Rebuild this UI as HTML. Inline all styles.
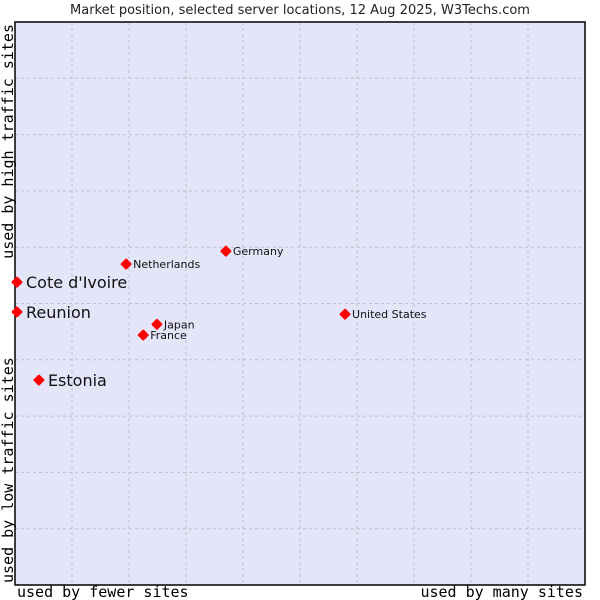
<!DOCTYPE html>
<html><head><meta charset="utf-8"><style>
body{margin:0;background:#fff;}
svg{display:block;}
</style></head><body>
<svg id="chart" width="600" height="600" xmlns="http://www.w3.org/2000/svg">
<text x="300" y="14" text-anchor="middle" font-family="DejaVu Sans, sans-serif" font-size="13" fill="#222">Market position, selected server locations, 12 Aug 2025, W3Techs.com</text>
<rect x="15" y="22" width="570" height="563" fill="#e4e5f8"/>
<g id="grid"></g>
<rect x="15" y="22" width="570" height="563" fill="none" stroke="#000" stroke-width="1.5"/>
<text x="17" y="597" font-family="DejaVu Sans Mono, monospace" font-size="15" fill="#000">used by fewer sites</text>
<text x="583" y="597" text-anchor="end" font-family="DejaVu Sans Mono, monospace" font-size="15" fill="#000">used by many sites</text>
<text transform="translate(13,583) rotate(-90)" font-family="DejaVu Sans Mono, monospace" font-size="15" fill="#000">used by low traffic sites</text>
<text transform="translate(13,24) rotate(-90)" text-anchor="end" font-family="DejaVu Sans Mono, monospace" font-size="15" fill="#000">used by high traffic sites</text>
<g id="points"></g>
</svg>
<script>
const countries = ["Cote d'Ivoire","Reunion","Estonia","Netherlands","Germany","United States","Japan","France"];
const xValues = [0.35,0.35,4.2,19.5,37.0,57.9,24.9,22.5];
const yValues = [53.8,48.5,36.4,57.0,59.3,48.1,46.3,44.4];
const highlighted = [true,true,true,false,false,false,false,false];
const NS="http://www.w3.org/2000/svg";
const L=15,T=22,W=570,H=563;
function xs(v){return L+v/100*W;}
function ys(v){return T+H-v/100*H;}
const grid=document.getElementById('grid');
for(let i=1;i<10;i++){
  const v=document.createElementNS(NS,'line');
  v.setAttribute('x1',xs(i*10));v.setAttribute('x2',xs(i*10));v.setAttribute('y1',T);v.setAttribute('y2',T+H);
  v.setAttribute('stroke','#c0c0c8');v.setAttribute('stroke-dasharray','3,3');
  
  
  grid.appendChild(v);
  const h=document.createElementNS(NS,'line');
  h.setAttribute('y1',ys(i*10));h.setAttribute('y2',ys(i*10));h.setAttribute('x1',L);h.setAttribute('x2',L+W);
  h.setAttribute('stroke','#c0c0c8');h.setAttribute('stroke-dasharray','3,3');
  
  
  grid.appendChild(h);
}
const pts=document.getElementById('points');
countries.forEach((c,i)=>{
  const x=xs(xValues[i]),y=ys(yValues[i]);
  const m=document.createElementNS(NS,'polygon');
  m.setAttribute('points',`${x},${y-4.5} ${x+4.5},${y} ${x},${y+4.5} ${x-4.5},${y}`);
  m.setAttribute('fill','#f00');
  m.setAttribute('stroke','#f00');
  m.setAttribute('stroke-width','2');
  m.setAttribute('stroke-linejoin','round');
  
  
  pts.appendChild(m);
  const t=document.createElementNS(NS,'text');
  const big=highlighted[i];
  t.setAttribute('x',x+(big?9:7));
  t.setAttribute('y',y+(big?6:4));
  t.setAttribute('font-family','DejaVu Sans, sans-serif');
  t.setAttribute('font-size',big?16:11);
  t.setAttribute('fill','#111');
  t.textContent=c;
  
  
  pts.appendChild(t);
});
</script>
</body></html>
